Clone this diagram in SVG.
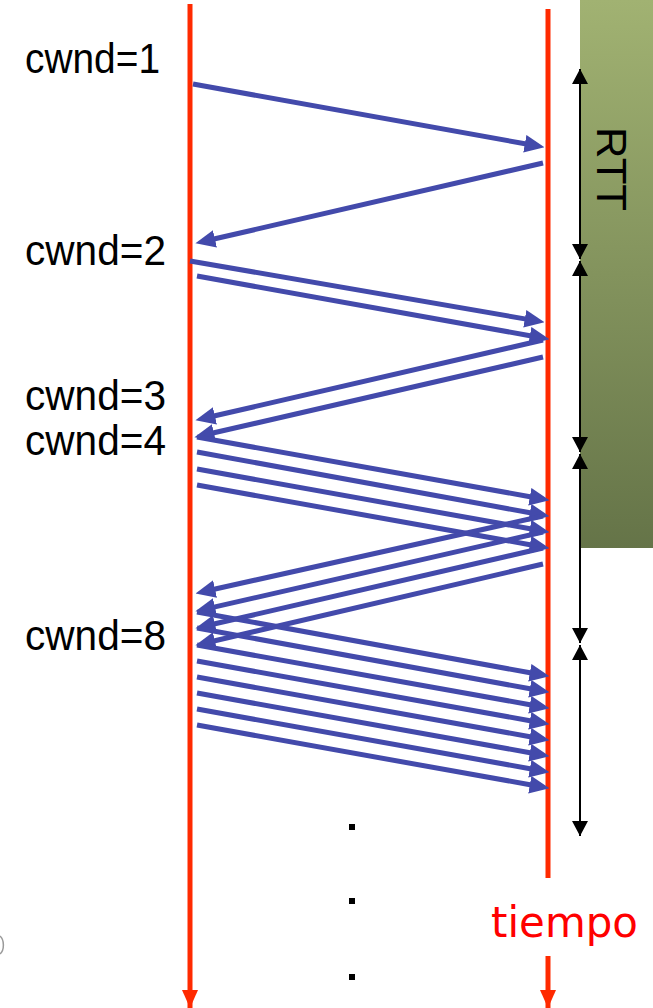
<svg xmlns="http://www.w3.org/2000/svg" width="653" height="1008" viewBox="0 0 653 1008">
  <defs>
    <linearGradient id="greenGrad" x1="0" y1="0" x2="0" y2="1">
      <stop offset="0" stop-color="#a1b272"/>
      <stop offset="1" stop-color="#657448"/>
    </linearGradient>
    <marker id="blueHead" markerUnits="userSpaceOnUse" markerWidth="20" markerHeight="18" viewBox="0 0 18 16" refX="4" refY="8" orient="auto">
      <path d="M0,0 L18,8 L0,16 Z" fill="#434aab"/>
    </marker>
    <marker id="blackHead" markerUnits="userSpaceOnUse" markerWidth="16" markerHeight="16" viewBox="0 0 15 16" refX="15" refY="8" orient="auto-start-reverse">
      <path d="M0,0 L15,8 L0,16 Z" fill="#000"/>
    </marker>
    <marker id="redHead" markerUnits="userSpaceOnUse" markerWidth="18" markerHeight="18" viewBox="0 0 18 16" refX="18" refY="8" orient="auto">
      <path d="M0,0 L18,8 L0,16 Z" fill="#ff2a00"/>
    </marker>
    <style>
      .timeline { stroke: #ff2a00; stroke-width: 5; fill: none; }
      .pkt { stroke: #434aab; stroke-width: 5; fill: none; marker-end: url(#blueHead); }
      .rtt { stroke: #000; stroke-width: 2; fill: none; marker-start: url(#blackHead); marker-end: url(#blackHead); }
      .lbl { font-family: "Liberation Sans", Arial, sans-serif; font-size: 42px; fill: #000; }
      .dot { fill: #000; }
    </style>
  </defs>

  <rect width="653" height="1008" fill="#ffffff"/>

  <g id="rtt-band">
    <rect x="580" y="0" width="73" height="548" fill="url(#greenGrad)"/>
    <text class="lbl" x="597" y="127" font-size="43" transform="rotate(90 597 127)" textLength="84" lengthAdjust="spacingAndGlyphs">RTT</text>
  </g>

  <g id="sender-timeline">
    <line class="timeline" x1="190" y1="4" x2="190" y2="1008" marker-end="url(#redHead)"/>
  </g>

  <g id="receiver-timeline">
    <line class="timeline" x1="548" y1="9" x2="548" y2="878"/>
    <line class="timeline" x1="548" y1="956" x2="548" y2="1008" marker-end="url(#redHead)"/>
    <text x="491" y="937" font-family="'DejaVu Sans', 'Liberation Sans', sans-serif" font-size="42" fill="#ff0000" textLength="147" lengthAdjust="spacingAndGlyphs">tiempo</text>
  </g>

  <g id="cwnd-labels">
    <text class="lbl" x="25" y="73" textLength="135" lengthAdjust="spacingAndGlyphs">cwnd=1</text>
    <text class="lbl" x="25" y="265" textLength="141" lengthAdjust="spacingAndGlyphs">cwnd=2</text>
    <text class="lbl" x="25" y="410" textLength="141" lengthAdjust="spacingAndGlyphs">cwnd=3</text>
    <text class="lbl" x="25" y="455" textLength="141" lengthAdjust="spacingAndGlyphs">cwnd=4</text>
    <text class="lbl" x="25" y="650" textLength="141" lengthAdjust="spacingAndGlyphs">cwnd=8</text>
  </g>

  <g id="rtt-brackets">
    <line class="rtt" x1="580" y1="69" x2="580" y2="259"/>
    <line class="rtt" x1="580" y1="261" x2="580" y2="452"/>
    <line class="rtt" x1="580" y1="454" x2="580" y2="643"/>
    <line class="rtt" x1="580" y1="645" x2="580" y2="836"/>
  </g>

  <g id="ellipsis">
    <rect class="dot" x="349" y="824" width="6" height="6"/>
    <rect class="dot" x="349" y="898" width="6" height="6"/>
    <rect class="dot" x="349" y="974" width="6" height="6"/>
  </g>

  <g id="edge-fragment">
    <path d="M0,936 A6,10 0 0 1 0,954" fill="none" stroke="#9a9a9a" stroke-width="1.5"/>
  </g>

  <g id="connectors">
    <!-- round 1 -->
    <line class="pkt" x1="193" y1="84" x2="529.2" y2="144.5"/>
    <line class="pkt" x1="543" y1="163" x2="210.6" y2="239.8"/>
    <!-- round 2 -->
    <line class="pkt" x1="190" y1="261" x2="529.2" y2="319.6"/>
    <line class="pkt" x1="197" y1="276" x2="534.2" y2="336.5"/>
    <line class="pkt" x1="543" y1="340" x2="210.6" y2="416.8"/>
    <line class="pkt" x1="543" y1="357" x2="209.6" y2="433.8"/>
    <!-- round 3 -->
    <line class="pkt" x1="197" y1="437" x2="534.2" y2="497.5"/>
    <line class="pkt" x1="197" y1="452" x2="534.2" y2="513.5"/>
    <line class="pkt" x1="197" y1="469" x2="534.2" y2="529.5"/>
    <line class="pkt" x1="197" y1="485" x2="534.2" y2="545.5"/>
    <line class="pkt" x1="543" y1="516" x2="210.7" y2="590"/>
    <line class="pkt" x1="543" y1="532" x2="210.6" y2="607.9"/>
    <line class="pkt" x1="543" y1="548" x2="210.6" y2="624.8"/>
    <line class="pkt" x1="543" y1="564" x2="210.6" y2="641.8"/>
    <!-- round 4 -->
    <line class="pkt" x1="197" y1="612" x2="534.2" y2="673.5"/>
    <line class="pkt" x1="197" y1="628" x2="534.2" y2="689.5"/>
    <line class="pkt" x1="197" y1="645" x2="534.2" y2="705.5"/>
    <line class="pkt" x1="197" y1="661" x2="534.2" y2="721.5"/>
    <line class="pkt" x1="197" y1="677" x2="534.2" y2="737.5"/>
    <line class="pkt" x1="197" y1="693" x2="534.2" y2="753.5"/>
    <line class="pkt" x1="197" y1="709" x2="534.2" y2="769.5"/>
    <line class="pkt" x1="197" y1="725" x2="534.2" y2="785.5"/>
  </g>
</svg>
